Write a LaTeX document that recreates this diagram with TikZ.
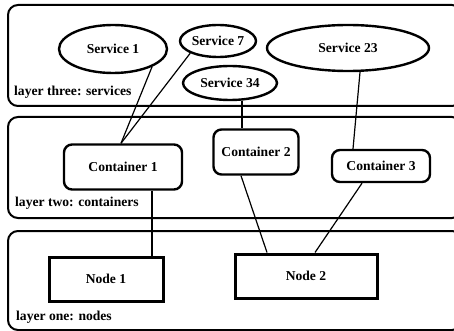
\documentclass[tikz,border=0pt]{standalone}
\usepackage{fontspec}
\setmainfont{Liberation Serif}
\usetikzlibrary{shapes.geometric}
\tikzset{
  layer/.style={line width=2pt, rounded corners=10pt},
  layerlabel/.style={anchor=west, inner sep=0pt},
  service/.style 2 args={draw, ellipse, line width=2.4pt, inner sep=0pt, minimum width=#1, minimum height=#2},
  container/.style 2 args={draw, rounded corners=8pt, line width=2.4pt, inner sep=0pt, minimum width=#1, minimum height=#2},
  hostbox/.style 2 args={draw, line width=3pt, inner sep=0pt, minimum width=#1, minimum height=#2},
  link/.style={line width=1.2pt},
}

\begin{document}
\begin{tikzpicture}[x=1pt, y=-1pt, font=\fontsize{13.6}{16}\selectfont\bfseries]
    \useasboundingbox (0,0) rectangle (454,331);
    \draw[layer] (8,5) rectangle (462,106);
    \draw[layer] (8,117) rectangle (462,218);
    \draw[layer] (8,231) rectangle (462,330);
    \node[layerlabel] (l3) at (14,92) {layer three: services};
    \node[layerlabel] (l2) at (15,203) {layer two: containers};
    \node[layerlabel] (l1) at (16,317) {layer one: nodes};

    \node[service={108pt}{48pt}] (s1) at (113,49) {Service 1};
    \node[service={76pt}{32pt}] (s7) at (218,41) {Service 7};
    \node[service={162pt}{46pt}] (s23) at (348,48) {Service 23};
    \node[service={94pt}{34pt}] (s34) at (230,83) {Service 34};

    \node[container={118pt}{45pt}] (c1) at (123,167) {Container 1};
    \node[container={85pt}{45pt}] (c2) at (256,152) {Container 2};
    \node[container={98pt}{32pt}] (c3) at (381,166) {Container 3};

    \node[hostbox={114pt}{44pt}] (n1) at (106,279) {Node 1};
    \node[hostbox={142pt}{44pt}] (n2) at (306,276) {Node 2};

    \draw[link] (s1.south east) -- ([xshift=-2]c1.north);
    \draw[link] (s7.south west) -- ([xshift=-2]c1.north);
    \draw[link] ([xshift=-14]c2.north |- s34.south) -- ([xshift=-14]c2.north);
    \draw[link] ([xshift=12]s23.south) -- ([xshift=-28]c3.north);
    \draw[link] ([xshift=29]c1.south) -- ([xshift=29]c1.south |- n1.north);
    \draw[link] ([xshift=-15]c2.south) -- ([xshift=-39]n2.north);
    \draw[link] ([xshift=-19]c3.south) -- ([xshift=9]n2.north);
\end{tikzpicture}
\end{document}
